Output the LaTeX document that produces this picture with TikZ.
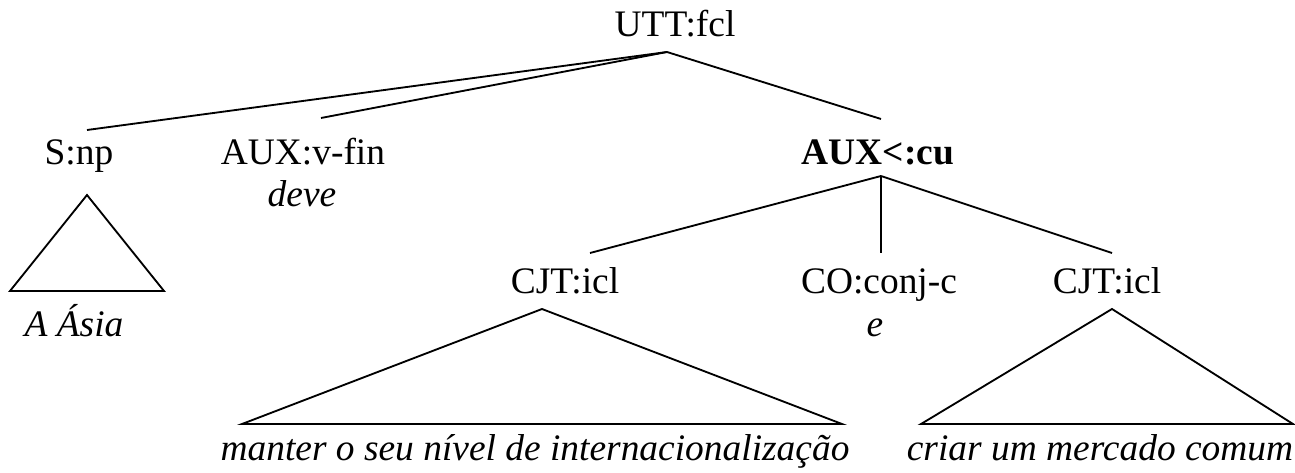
\documentclass[tikz,border=0pt]{standalone}
\usepackage{fontspec}
\setmainfont{Liberation Serif}
\usetikzlibrary{positioning}

\begin{document}
\begin{tikzpicture}[x=0.02cm, y=-0.02cm, font=\fontsize{21.3}{25}\selectfont, edge/.style={line width=1.05pt}]
\tikzstyle{cat} = [anchor=base, inner sep=0pt]
\tikzstyle{word} = [anchor=base, inner sep=0pt, font=\fontsize{21.3}{25}\selectfont\itshape]
\useasboundingbox (0,0) rectangle (1295,473);
% labels
\node[cat] (utt) at (675,37) {UTT:fcl};
\node[cat] (snp) at (79,165) {S:np};
\node[cat] (auxv) at (303,165) {AUX:v-fin};
\node[word] (deve) at (302,206) {deve};
\node[cat, font=\fontsize{21.3}{25}\selectfont\bfseries] (auxcu) at (878,165) {AUX<:cu};
\node[word] (asia) at (74,336) {A Ásia};
\node[cat] (cjta) at (565,293) {CJT:icl};
\node[cat] (co) at (879,293) {CO:conj-c};
\node[cat] (cjtb) at (1107,293) {CJT:icl};
\node[word] (e) at (875,336) {e};
\node[word] (manter) at (535,460) {manter o seu nível de internacionalização};
\node[word] (criar) at (1100,460) {criar um mercado comum};
% edge ends
\coordinate (utt-b) at (667,52);
\coordinate (snp-t) at (87,130);
\coordinate (auxv-t) at (321,118);
\coordinate (auxcu-t) at (881,119);
\coordinate (auxcu-b) at (881,176);
\coordinate (cjta-t) at (590,253);
\coordinate (co-t) at (881,253);
\coordinate (cjtb-t) at (1112,253);
\draw[edge] (utt-b) -- (snp-t);
\draw[edge] (utt-b) -- (auxv-t);
\draw[edge] (utt-b) -- (auxcu-t);
\draw[edge] (auxcu-b) -- (cjta-t);
\draw[edge] (auxcu-b) -- (co-t);
\draw[edge] (auxcu-b) -- (cjtb-t);
% triangles
\draw[edge] (87,195) -- (10,291) -- (164,291) -- cycle;
\draw[edge] (542,309) -- (242,424) -- (842,424) -- cycle;
\draw[edge] (1112,309) -- (921,424) -- (1293,424) -- cycle;
\end{tikzpicture}
\end{document}
